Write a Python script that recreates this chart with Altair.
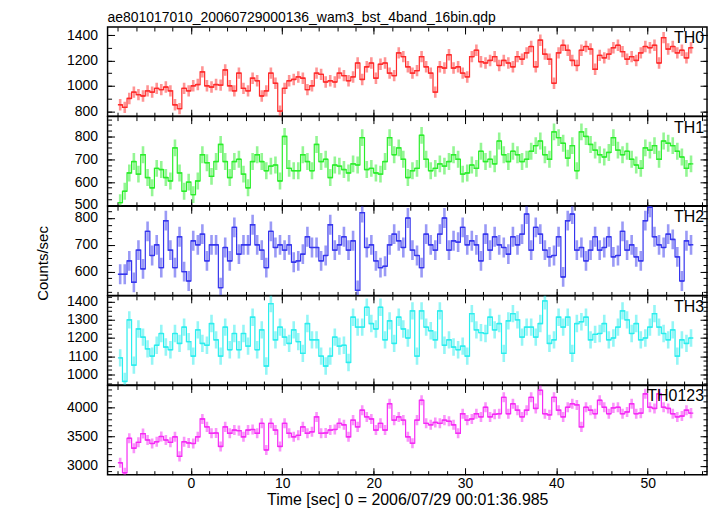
import altair as alt
import pandas as pd
import numpy as np

FONT = "Liberation Sans"
TITLE = "ae801017010_20060729000136_wam3_bst_4band_16bin.qdp"
XTITLE = "Time [sec] 0 = 2006/07/29 00:01:36.985"
YTITLE = "Counts/sec"

T_START = -7.75
BIN = 0.5

TH0 = [850, 830, 900, 950, 930, 920, 960, 950, 980, 970,
       990, 960, 850, 820, 980, 960, 1000, 1010, 1110, 1000,
       990, 1010, 1005, 1125, 1000, 960, 1100, 980, 960, 1060,
       1040, 920, 960, 1100, 1020, 800, 980, 1040, 1050, 1070,
       1060, 970, 1000, 1100, 1090, 1030, 1040, 1030, 1100, 1080,
       1040, 1070, 1180, 1050, 1150, 1180, 1060, 1170, 1180, 1100,
       1080,
       1260, 1230, 1150, 1100, 1120, 1230, 1150, 1100, 950, 1150,
       1140, 1245, 1140, 1150, 1100, 1070, 1230, 1280, 1190, 1180,
       1200, 1230, 1160, 1200, 1180, 1150, 1230, 1210, 1260, 1310,
       1150, 1360, 1250, 1210, 1020, 1260, 1320, 1280, 1200, 1160,
       1280, 1310, 1290, 1130, 1240, 1220, 1250, 1300, 1320, 1270,
       1210, 1230, 1200, 1260, 1310, 1300, 1320, 1180, 1380, 1290,
       1310, 1260, 1280, 1220, 1300]

TH1 = [510, 560, 640, 690, 635, 720, 620, 575, 660, 655,
       620, 605, 750, 640, 560, 600, 545, 605, 720, 685,
       625, 690, 765, 690, 620, 690, 700, 635, 575, 690,
       720, 690, 650, 670, 675, 605, 800, 660, 650, 650,
       720, 690, 650, 765, 690, 700, 620, 675, 670, 655,
       640, 680, 675, 795, 655, 660, 640, 635, 690, 795,
       720,
       750, 700, 620, 650, 660, 805, 700, 650, 660, 680,
       670, 690, 720, 700, 635, 640, 675, 660, 735, 690,
       700, 680, 780, 720, 690, 735, 720, 690, 700, 735,
       760, 780, 720, 700, 820, 795, 770, 705, 760, 650,
       820, 800, 765, 740, 720, 710, 730, 795, 740, 720,
       735, 700, 675, 660, 750, 740, 760, 700, 780, 770,
       760, 735, 710, 660, 680]

TH2 = [590, 590, 640, 560, 680, 610, 750, 660, 700, 615,
       790, 680, 615, 730, 600, 565, 715, 700, 740, 640,
       700, 700, 540, 690, 640, 765, 665, 700, 700, 775,
       700, 680, 615, 750, 690, 700, 680, 700, 635, 640,
       665, 730, 690, 690, 640, 660, 775, 680, 700, 730,
       680, 715, 530, 820, 690, 700, 640, 615, 620, 700,
       740,
       715, 690, 800, 680, 660, 615, 740, 700, 680, 740,
       800, 680, 715, 710, 765, 700, 715, 700, 640, 740,
       680, 730, 700, 690, 665, 730, 700, 740, 815, 680,
       765, 740, 680, 655, 660, 730, 580, 790, 815, 680,
       690, 640, 680, 730, 680, 690, 730, 655, 660, 750,
       680, 700, 655, 640, 790, 840, 730, 700, 690, 740,
       720, 655, 565, 715, 700]

TH3 = [1090, 960, 1300, 1050, 1250, 1205, 1140, 1100, 1160, 1225,
       1150, 1135, 1225, 1170, 1260, 1180, 1100, 1245, 1170, 1160,
       1280, 1190, 1100, 1260, 1135, 1225, 1135, 1225, 1155, 1315,
       1135, 1245, 1045, 1390, 1190, 1260, 1205, 1170, 1245, 1180,
       1115, 1280, 1190, 1190, 1100, 1045, 1100, 1205, 1155, 1160,
       1065, 1315, 1260, 1260, 1370, 1280, 1250, 1370, 1190, 1295,
       1170,
       1315, 1250, 1200, 1350, 1100, 1350, 1260, 1240, 1190, 1350,
       1160, 1190, 1150, 1135, 1155, 1100, 1335, 1245, 1230, 1225,
       1315, 1245, 1280, 1115, 1295, 1335, 1300, 1205, 1260, 1260,
       1205, 1280, 1405, 1170, 1190, 1315, 1260, 1315, 1115, 1280,
       1290, 1315, 1190, 1220, 1225, 1280, 1190, 1200, 1260, 1350,
       1300, 1225, 1280, 1190, 1200, 1260, 1335, 1260, 1225, 1190,
       1245, 1100, 1190, 1170, 1200]

TH0123 = [3050, 2880, 3470, 3300, 3400, 3550, 3440, 3380, 3410, 3500,
          3440, 3400, 3495, 3160, 3410, 3390, 3380, 3495, 3800, 3665,
          3555, 3560, 3330, 3665, 3555, 3610, 3600, 3495, 3610, 3620,
          3555, 3725, 3270, 3725, 3610, 3330, 3725, 3555, 3495, 3520,
          3665, 3555, 3580, 3835, 3555, 3560, 3610, 3620, 3725, 3700,
          3495, 3780, 3665, 3950, 3835, 3800, 3610, 3725, 3610, 4060,
          3780,
          3835, 3780, 3495, 3385, 3780, 4120, 3725, 3700, 3740, 3725,
          3780, 3760, 3700, 3555, 3890, 3780, 3800, 3890, 3835, 4000,
          3835, 3880, 3890, 4170, 3890, 4060, 3950, 3835, 3950, 4170,
          3980, 4290, 3890, 3870, 4170, 3950, 3835, 4000, 4060, 4040,
          3665, 4000, 3950, 3890, 4120, 4000, 3890, 3990, 4000, 3890,
          3920, 4060, 3890, 3900, 4230, 4000, 3980, 4230, 4000, 3980,
          3890, 3835, 3850, 3950, 3900]

SERIES = [TH0, TH1, TH2, TH3, TH0123]
NAMES = ["TH0", "TH1", "TH2", "TH3", "TH0123"]
COLORS = ["#ff2a2a", "#2aee2a", "#3535ee", "#2aeeee", "#f52af5"]
ERRS = [45, 37, 37, 48, 86]
YDOM = [[760, 1464], [496, 887], [511, 844], [940, 1433], [2847, 4373]]
YMAJOR = [[800, 1000, 1200, 1400], [500, 600, 700, 800], [600, 700, 800],
          [1000, 1100, 1200, 1300, 1400], [3000, 3500, 4000]]
YMINOR_STEP = [100, 25, 25, 25, 100]
XDOM = [-9.13, 56.5]
XMAJOR = [0, 10, 20, 30, 40, 50]
XMINOR = list(range(-8, 57, 2))

W = 602
H = 89.6
MAJ = 7
MIN = 4


def xaxis(orient, values, size, labels=False, title=None):
    return alt.Axis(orient=orient, values=values, tickSize=size, offset=-size,
                    labels=labels, domain=False, grid=False, title=title,
                    labelPadding=2, titlePadding=1, titleFontSize=16, format="d")


def yaxis(orient, values, size, labels=False, title=None):
    kw = {}
    if title is not None:
        kw = dict(titleX=-64, titleY=57, titleFontSize=15)
    return alt.Axis(orient=orient, values=values, tickSize=size, offset=-size,
                    labels=labels, domain=False, grid=False, title=title,
                    labelPadding=10, format="d", **kw)


def panel(i):
    vals = np.array(SERIES[i], dtype=float)
    n = len(vals)
    t = T_START + BIN * np.arange(n)
    df = pd.DataFrame({"t": t, "t0": t - BIN / 2, "t1": t + BIN / 2, "v": vals,
                       "lo": vals - ERRS[i], "hi": vals + ERRS[i]})
    last = i == len(NAMES) - 1
    mid = i == 2
    c = COLORS[i]
    xs = alt.Scale(domain=XDOM, nice=False, zero=False)
    ys = alt.Scale(domain=YDOM[i], nice=False, zero=False)
    lo, hi = YDOM[i]
    st = YMINOR_STEP[i]
    yminor = [float(v) for v in np.arange(np.ceil(lo / st) * st, hi, st)]
    base = alt.Chart(df)
    e = base.mark_rule(color=c, strokeWidth=2.6, opacity=0.5, clip=True).encode(
        x=alt.X("t:Q", scale=xs, axis=xaxis("top", XMAJOR, MAJ)),
        y=alt.Y("lo:Q", scale=ys, axis=yaxis("right", YMAJOR[i], MAJ)),
        y2="hi:Q",
    )
    h = base.mark_rule(color=c, strokeWidth=1.4, clip=True).encode(
        x=alt.X("t0:Q", scale=xs, axis=xaxis("bottom", XMAJOR, MAJ, labels=last,
                                            title=XTITLE if last else None)),
        x2="t1:Q",
        y=alt.Y("v:Q", scale=ys, axis=yaxis("left", YMAJOR[i], MAJ, labels=True,
                                           title=YTITLE if mid else None)),
    )
    s = base.mark_line(color=c, strokeWidth=1.2, interpolate="step", clip=True).encode(
        x=alt.X("t:Q", scale=xs, axis=xaxis("bottom", XMINOR, MIN)),
        y=alt.Y("v:Q", scale=ys, axis=yaxis("left", yminor, MIN)),
    )
    m2 = base.mark_rule(opacity=0, clip=True).encode(
        x=alt.X("t:Q", scale=xs, axis=xaxis("top", XMINOR, MIN)),
        y=alt.Y("v:Q", scale=ys, axis=yaxis("right", yminor, MIN)),
        y2="lo:Q",
    )
    lab = alt.Chart(pd.DataFrame({"name": [NAMES[i]]})).mark_text(
        align="right", baseline="middle", fontSize=16, font=FONT, color="black"
    ).encode(text="name:N", x=alt.value(W - 3), y=alt.value(11))
    layer = alt.layer(e, h, s, m2, lab).resolve_axis(x="independent", y="independent")
    props = dict(width=W, height=H)
    if i == 0:
        props["title"] = alt.TitleParams(TITLE, anchor="start", frame="group", fontSize=14,
                                         font=FONT, fontWeight="normal", color="black", offset=2)
    return layer.properties(**props)


chart = alt.vconcat(*[panel(i) for i in range(5)], spacing=0, bounds="flush").resolve_scale(
    x="independent", y="independent"
).properties(
    padding={"left": 27, "top": 0, "right": 0, "bottom": 0}
).configure_view(
    stroke="black", strokeWidth=1.5
).configure_axis(
    tickColor="black", tickWidth=1, labelColor="black", titleColor="black",
    labelFont=FONT, titleFont=FONT, labelFontSize=14, titleFontSize=14,
    titleFontWeight="normal"
)

chart.save("out.html", embed_options={"renderer": "svg", "actions": False})
